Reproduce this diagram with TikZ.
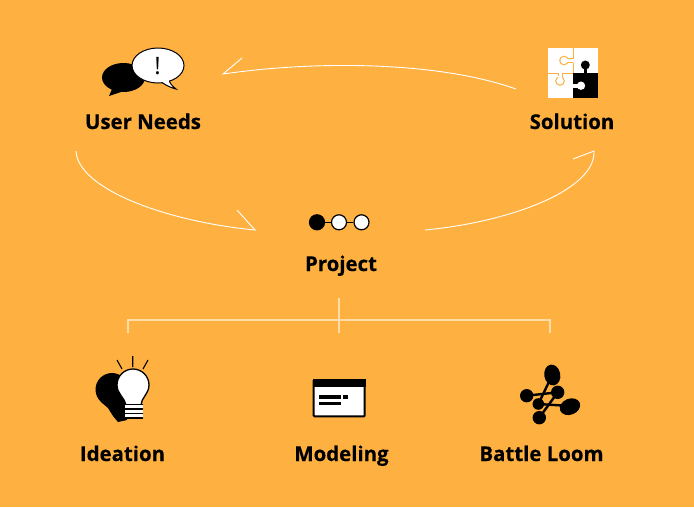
\documentclass[tikz,border=0pt]{standalone}
\usepackage{fontspec}
\setmainfont{Open Sans}[BoldFeatures = {FakeBold = 0.4}]
\usetikzlibrary{positioning}

\definecolor{backorange}{HTML}{FEB141}
\definecolor{treecream}{HTML}{FFDDA8}

\tikzset{
  label text/.style = {font = \fontsize{20.4}{24}\selectfont\bfseries, text = black, inner sep = 0pt, anchor = base},
  flow line/.style = {draw = white, line width = 0.9pt},
  tree line/.style = {draw = treecream, line width = 1.3pt},
  seam line/.style = {draw = backorange, line width = 1pt},
  dot/.style = {draw = black, shape = circle, line width = 1.2pt, minimum size = 15pt, inner sep = 0pt},
  loom line/.style = {draw = black, line width = 2.4pt}
}

\begin{document}
\begin{tikzpicture}[x = 1pt, y = -1pt]

\fill [backorange] (0, 0) rectangle (694, 507);
\useasboundingbox (0, 0) rectangle (694, 507);

\node [label text] (needs) at (143, 129) {User Needs};
\node [label text] (solution) at (572, 129) {Solution};
\node [label text] (project) at (341, 271) {Project};
\node [label text] (ideation) at (122.5, 461) {Ideation};
\node [label text] (modeling) at (341.5, 461) {Modeling};
\node [label text] (loom) at (541.5, 461) {Battle Loom};

% arcs between the three stages
\coordinate (needsOut) at (76, 151);
\coordinate (projectIn) at (255, 230);
\coordinate (projectOut) at (425, 230);
\coordinate (solutionIn) at (594, 151);
\coordinate (solutionOut) at (516, 89);
\coordinate (needsIn) at (223, 74);

\path [flow line] (needsOut) .. controls (78, 190) and (170, 222) .. (projectIn) -- ++(-18, -20);
\path [flow line] (projectOut) .. controls (510, 222) and (596, 190) .. (solutionIn) -- ++(-21, 8);
\path [flow line] (solutionOut) .. controls (440, 62) and (320, 60) .. (needsIn) -- ++(19, -16);

% tree under the project label
\coordinate (treeTop) at (339, 298);
\coordinate (treeMid) at (339, 320);
\coordinate (treeBottom) at (339, 333);
\coordinate (treeLeft) at (128, 333);
\coordinate (treeRight) at (550, 333);

\path [tree line] (treeTop) -- (treeBottom);
\path [tree line] (treeLeft) |- (treeMid) -| (treeRight);

% speech bubbles
\fill [black] (123.5, 77.5) ellipse (21.5 and 14.5);
\fill [black] (112, 89) -- (109, 96) -- (124, 91) -- cycle;
\path [draw = black, fill = white, line width = 1pt] (158, 65.5) ellipse (26 and 17.5);
\path [draw = black, fill = white, line width = 1pt] (162, 82.5) .. controls (167, 86) and (172, 88) .. (176, 89)
  .. controls (172, 86) and (170, 83) .. (168.5, 80);
\fill [white] (161, 79) rectangle (169, 82);
\node [font = \fontsize{24}{24}\selectfont, inner sep = 0pt] (bang) at (157.7, 66) {!};

% puzzle
\fill [white] (547.7, 48.3) rectangle (597.7, 97.7);
\fill [black] (573.3, 73.3) rectangle (597.7, 97.7);
\fill [black] (583.5, 66) rectangle (587.1, 74);
\fill [black] (585.3, 65) circle (4.5);
\fill [white] (573, 83.7) rectangle (579, 87.7);
\fill [white] (581, 85.7) circle (4.2);
\path [seam line] (573.3, 48.3) -- (573.3, 58.5) -- (567.8, 58.5);
\path [seam line] (573.3, 62.5) -- (567.8, 62.5);
\path [seam line] (573.3, 62.5) -- (573.3, 73.3);
\path [seam line] (564, 60.5) circle (4.3);
\path [seam line] (547.7, 73.3) -- (558, 73.3) -- (558, 77.2);
\path [seam line] (573.3, 73.3) -- (562, 73.3) -- (562, 77.2);
\path [seam line] (560, 81) circle (4.3);
\fill [white] (565.5, 58.9) rectangle (568.6, 62.1);
\fill [white] (558.4, 75.5) rectangle (561.6, 78.5);

% project chain
\node [dot, fill = black] (chain0) at (317, 222.3) {};
\node [dot, fill = white] (chain1) at (339, 222.3) {};
\node [dot, fill = white] (chain2) at (361.5, 222.3) {};
\path [draw = black, line width = 1.2pt] (chain0) -- (chain1);
\path [draw = black, line width = 1.2pt] (chain1) -- (chain2);

% bulb
\fill [black] (112, 389.5) circle (16.5);
\fill [black] (101, 402) -- (108, 408) -- (113, 416) -- (118, 422) -- (127, 420) -- (130, 395) -- cycle;
\path [draw = black, fill = white, line width = 1.3pt] (126, 405) .. controls (125, 398) and (117, 394) .. (117, 385)
  arc (180:360:16) .. controls (149, 394) and (141, 398) .. (141, 405) -- cycle;
\fill [white] (124.5, 404) rectangle (142.5, 418);
\path [draw = black, line width = 1.5pt, line cap = round] (125, 404.5) -- (142.5, 404.5) (125, 409) -- (142.5, 409)
  (125, 413.5) -- (142.5, 413.5) (125, 418) -- (142.5, 418);
\path [draw = black, line width = 1.1pt] (122, 369) -- (117, 360) (132.7, 367) -- (132.7, 356) (143, 369) -- (148, 360);

% window
\path [draw = black, fill = white, line width = 2pt, rounded corners = 0.8pt] (313.7, 380) rectangle (364.7, 416.3);
\fill [black] (312.7, 379) rectangle (365.7, 387.3);
\fill [black] (319.3, 395) rectangle (341, 398.5);
\fill [black] (343.3, 395) rectangle (348.3, 398.5);
\fill [black] (319.3, 401.7) rectangle (341, 405);

% loom
\path [loom line] (526.7, 395.7) -- (557.7, 392.3);
\path [loom line] (538.3, 404) -- (570, 406);
\path [loom line] (539.3, 417.7) -- (557.7, 392.3);
\path [loom line] (538.3, 404) -- (552.3, 375);
\fill [black, rotate around = {10:(552.3, 375)}] (552.3, 375) ellipse (8 and 10.5);
\fill [black] (526.7, 395.7) circle (6.7);
\fill [black] (557.7, 392.3) circle (6.7);
\fill [black] (538.3, 404) circle (5.8);
\fill [black, rotate around = {22:(570, 406.7)}] (570, 406.7) ellipse (10.5 and 8);
\fill [black] (539.3, 417.7) circle (6.7);

\end{tikzpicture}
\end{document}
